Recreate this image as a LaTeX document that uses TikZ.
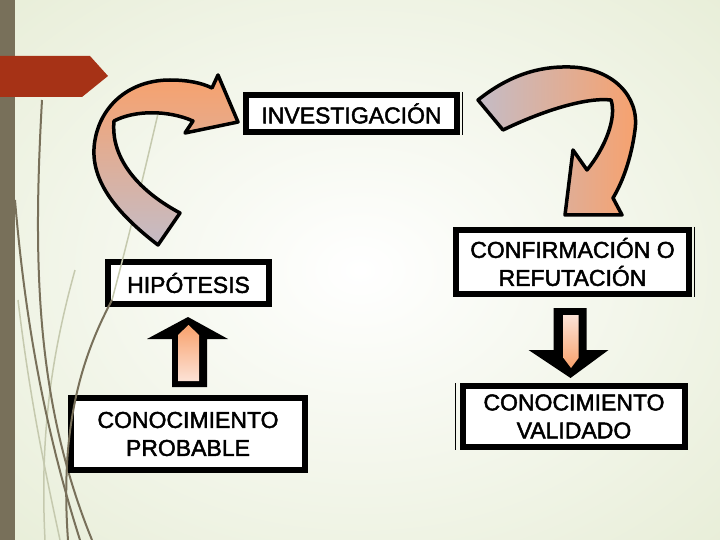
\documentclass[tikz,border=0pt]{standalone}
\usepackage{fontspec}
\setmainfont{Liberation Sans}
\newfontfamily\boxfont[FakeBold=2]{Liberation Sans}
\usetikzlibrary{calc}
\definecolor{bgc}{HTML}{DCE5C4}
\definecolor{barolive}{HTML}{78705A}
\definecolor{bannerred}{HTML}{A63216}
\definecolor{linelight}{HTML}{C5C9AE}
\definecolor{arrorange}{HTML}{F8A16C}
\definecolor{arrgray}{HTML}{C4BCC6}
\definecolor{arrpeach}{HTML}{FCE2D6}
\pgfdeclareradialshading{bgglow}{\pgfpoint{0bp}{0bp}}{color(0bp)=(white); color(8bp)=(white!85!bgc); color(30bp)=(white!45!bgc); color(55bp)=(bgc); color(80bp)=(bgc)}
\tikzset{
  box/.style={draw=black, line width=6pt, fill=white, inner sep=0pt, align=center,
    font=\boxfont\fontsize{23}{28}\selectfont},
  curvarrow/.style={draw=black, line width=3.5pt, line join=round},
  blockhead/.style={fill=black},
  darkline/.style={draw=barolive, line width=2pt},
  lightline/.style={draw=linelight, line width=1.5pt},
  thinedge/.style={draw=black, line width=1.2pt}
}
\begin{document}
\begin{tikzpicture}[x=1pt,y=-1pt]
\useasboundingbox (0,0) rectangle (720,540);
% background
\shade[shading=bgglow] (0,0) rectangle (720,540);
% decorative lines
\draw[lightline] (18,300) .. controls (30,400) and (45,470) .. (60,540);
\draw[lightline] (75,270) .. controls (50,360) and (40,440) .. (45,540);
\draw[darkline] (42,100) .. controls (33,260) and (35,400) .. (92,540);
\draw[darkline] (15,200) .. controls (25,320) and (45,430) .. (80,540);
% left bar and banner
\fill[barolive] (0,0) rectangle (15,540);
\fill[bannerred] (0,56) -- (90,56) -- (108,76) -- (82,97) -- (0,97) -- cycle;

% boxes
\node[box, minimum width=211pt, minimum height=37pt] (inv) at (351.5,113.5) {INVESTIGACIÓN};
\node[box, minimum width=161pt, minimum height=42pt] (hip) at (188.5,283) {HIPÓTESIS};
\node[box, minimum width=234pt, minimum height=72pt] (prob) at (188,434) {CONOCIMIENTO\\PROBABLE};
\node[box, minimum width=233pt, minimum height=64pt] (conf) at (572.5,262) {CONFIRMACIÓN O\\REFUTACIÓN};
\node[box, minimum width=222pt, minimum height=61pt] (val) at (574,416.5) {CONOCIMIENTO\\VALIDADO};
% thin double edges
\draw[thinedge] ($(inv.north east)+(2.5,0)$) -- ($(inv.south east)+(2.5,0)$);
\draw[thinedge] ($(conf.north east)+(2.5,0)$) -- ($(conf.south east)+(2.5,0)$);
\draw[thinedge] ($(val.north west)+(-4.5,0)$) -- ($(val.south west)+(-4.5,0)$);

% line crossing over the left boxes
\draw[lightline] (160,105) .. controls (145,170) and (128,240) .. (112,300);
\draw[darkline] (112,300) .. controls (80,360) and (60,430) .. (68,540);

% left curved arrow (hip -> inv)
\path[curvarrow, top color=arrorange, bottom color=arrgray]
  (158,245) .. controls (115,212) and (88,178) .. (95,140)
  .. controls (101,105) and (130,80) .. (170,80)
  .. controls (188,80) and (202,83) .. (212,88)
  -- (218,75) -- (238,122) -- (185,133) -- (193,121)
  .. controls (168,110) and (135,110) .. (114,121)
  .. controls (111,150) and (128,185) .. (180,213) -- cycle;
% right curved arrow (inv -> conf)
\path[curvarrow, left color=arrgray, right color=arrorange]
  (478,100) .. controls (508,76) and (538,66) .. (570,67)
  .. controls (612,68) and (640,96) .. (635,130)
  .. controls (631,160) and (622,183) .. (613,198)
  -- (622,215) -- (565,215) -- (573,150) -- (587,170)
  .. controls (605,148) and (617,118) .. (611,100)
  .. controls (585,97) and (540,112) .. (503,130) -- cycle;

% up block arrow (prob -> hip)
\begin{scope}[shift={(hip.south)}]
  \fill[blockhead] (-0.5,10) -- (39.5,32) -- (18.5,32) -- (18.5,80) -- (-16.5,80) -- (-16.5,32) -- (-41.5,32) -- cycle;
  \shade[top color=arrorange, bottom color=arrpeach]
    (-10.5,74) -- (-10.5,28) -- (0,18) -- (10.5,28) -- (10.5,74) -- cycle;
\end{scope}
% down block arrow (conf -> val)
\begin{scope}[shift={(conf.south)}]
  \fill[blockhead] (-19,11) -- (14,11) -- (14,53) -- (36,53) -- (-2,81) -- (-44,53) -- (-19,53) -- cycle;
  \shade[top color=arrpeach, bottom color=arrorange]
    (-9,18) -- (6,18) -- (6,61) -- (-1.5,71) -- (-9,61) -- cycle;
\end{scope}
\end{tikzpicture}
\end{document}
